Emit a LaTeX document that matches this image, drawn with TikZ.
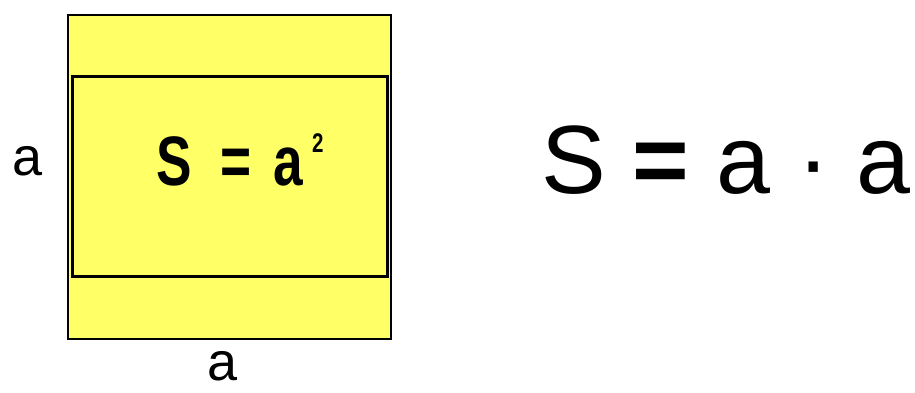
\documentclass[tikz,border=0pt]{standalone}
\usepackage{fontspec}
\setmainfont{Liberation Sans}
\newfontfamily\narrowbold[FakeStretch=0.76]{Liberation Sans Bold}
\definecolor{sqyellow}{RGB}{255,255,102}
\begin{document}
\begin{tikzpicture}[x=1pt,y=-1pt,
  box/.style={draw=black, fill=sqyellow, line width=2pt, inner sep=0pt},
  lbl/.style={inner sep=0pt, font=\fontsize{54}{54}\selectfont}]
\useasboundingbox (0,0) rectangle (915,392);
\node[box, minimum width=323pt, minimum height=324pt, anchor=north west] (outer) at (67,14) {};
\node[box, line width=2.6pt, minimum width=315pt, minimum height=200pt, anchor=north west] (inner) at (71,75) {};
\node[anchor=base west, inner sep=0pt] (formula) at (156,185) {\narrowbold\fontsize{70}{70}\selectfont S\hspace{14pt} = \hspace{7pt}a};
\node[anchor=base west, inner sep=0pt] (sq) at (312,152) {\narrowbold\fontsize{27}{27}\selectfont 2};
\node[lbl, anchor=base] (left) at (28,175) {a};
\node[lbl, anchor=base] (bottom) at (223,380) {a};
\node[anchor=base west, inner sep=0pt] (eq) at (541,193) {\fontsize{97}{97}\selectfont S \textbf{=} a · a};
\end{tikzpicture}
\end{document}
